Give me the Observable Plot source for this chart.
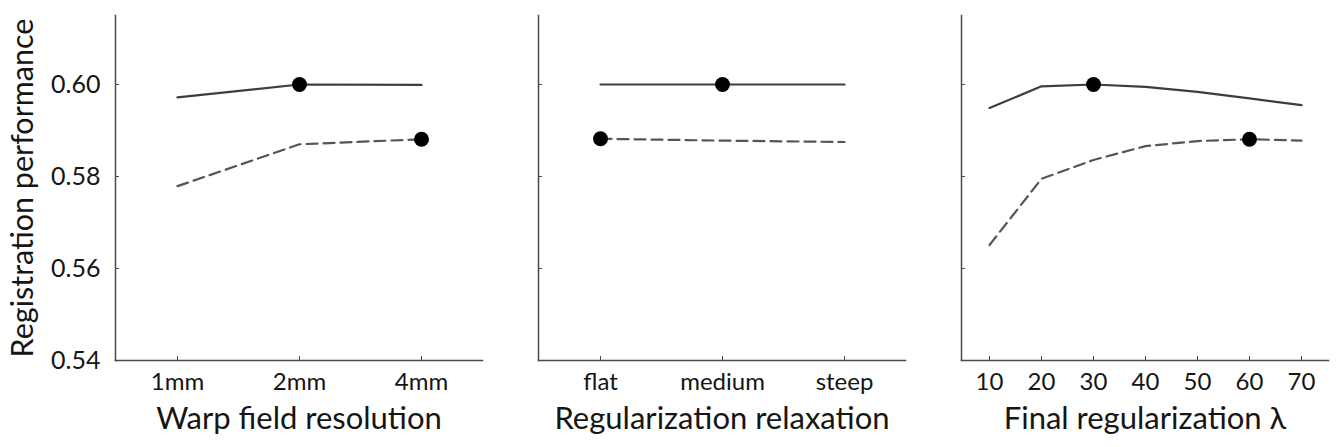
<!DOCTYPE html>
<html>
<head>
<meta charset="utf-8">
<script src="https://cdn.jsdelivr.net/npm/d3@7"></script>
<script src="https://cdn.jsdelivr.net/npm/@observablehq/plot@0.6"></script>
<style>
  html, body { margin: 0; padding: 0; background: #fff; }
  #wrap { position: relative; width: 1339px; height: 447px; overflow: hidden; }
  #wrap > div { position: absolute; top: 0; }
  svg { font-family: Lato, "Open Sans", sans-serif; }
</style>
</head>
<body>
<div id="wrap"><div id="p1"></div><div id="p2"></div><div id="p3"></div></div>
<script>
const yTicks = [0.54, 0.56, 0.58, 0.60];
const yTitle = "Registration performance";

const resolutionLabels = ["1mm", "2mm", "4mm"];
const resolutionSolid = [0.5972, 0.6000, 0.5999];
const resolutionDashed = [0.5779, 0.5870, 0.5881];
const resolutionBest = { solid: 1, dashed: 2 };

const relaxLabels = ["flat", "medium", "steep"];
const relaxSolid = [0.6000, 0.6000, 0.6000];
const relaxDashed = [0.5882, 0.5878, 0.5875];
const relaxBest = { solid: 1, dashed: 0 };

const lambdaLabels = [10, 20, 30, 40, 50, 60, 70];
const lambdaSolid = [0.5949, 0.5996, 0.6000, 0.5995, 0.5984, 0.5970, 0.5955];
const lambdaDashed = [0.5651, 0.5795, 0.5836, 0.5866, 0.5877, 0.5881, 0.5878];
const lambdaBest = { solid: 2, dashed: 5 };

const panels = [
  { id: "p1", left: 0, marginLeft: 115, width: 490, title: "Warp field resolution",
    cats: resolutionLabels, solid: resolutionSolid, dashed: resolutionDashed, best: resolutionBest, showY: true },
  { id: "p2", left: 500, marginLeft: 38, width: 413, title: "Regularization relaxation",
    cats: relaxLabels, solid: relaxSolid, dashed: relaxDashed, best: relaxBest, showY: false },
  { id: "p3", left: 923, marginLeft: 38, width: 413, title: "Final regularization \u03bb",
    cats: lambdaLabels, solid: lambdaSolid, dashed: lambdaDashed, best: lambdaBest, showY: false }
];

const axisColor = "#4a4a4a";
const textColor = "#151515";

for (const p of panels) {
  const solidRows = p.cats.map((c, i) => ({ x: c, y: p.solid[i] }));
  const dashedRows = p.cats.map((c, i) => ({ x: c, y: p.dashed[i] }));
  const bestRows = [solidRows[p.best.solid], dashedRows[p.best.dashed]];
  const marks = [
    Plot.frame({ anchor: "left", stroke: axisColor, strokeWidth: 1.5 }),
    Plot.frame({ anchor: "bottom", stroke: axisColor, strokeWidth: 1.5 }),
    Plot.axisY({
      ticks: yTicks, tickSize: -4, tickPadding: 19, stroke: axisColor,
      fontSize: 25, fill: textColor,
      tickFormat: p.showY ? d3.format(".2f") : () => "", label: null
    }),
    Plot.axisX({
      tickSize: -4, tickPadding: 16, stroke: axisColor,
      fontSize: 24, fill: textColor, label: null
    }),
    Plot.line(dashedRows, { x: "x", y: "y", stroke: "#555", strokeWidth: 2.2, strokeDasharray: "11,6" }),
    Plot.line(solidRows, { x: "x", y: "y", stroke: "#3d3d3d", strokeWidth: 2.2 }),
    Plot.dot(bestRows, { x: "x", y: "y", r: 7.5, fill: "#000", stroke: null }),
    Plot.text([p.title], { text: d => d, frameAnchor: "bottom", dy: 68, fontSize: 31, fill: textColor })
  ];
  if (p.showY) {
    marks.push(Plot.text([yTitle], {
      text: d => d, frameAnchor: "left", dx: -92, rotate: -90,
      textAnchor: "middle", fontSize: 30.5, fill: textColor
    }));
  }
  const chart = Plot.plot({
    width: p.width,
    height: 447,
    marginLeft: p.marginLeft,
    marginRight: 8,
    marginTop: 15,
    marginBottom: 87,
    style: { fontFamily: "Lato, 'Open Sans', sans-serif", background: "transparent", overflow: "visible" },
    x: { type: "point", domain: p.cats, padding: 0.5 },
    y: { domain: [0.54, 0.615] },
    marks
  });
  const host = document.getElementById(p.id);
  host.style.left = p.left + "px";
  host.appendChild(chart);
}
</script>
</body>
</html>
